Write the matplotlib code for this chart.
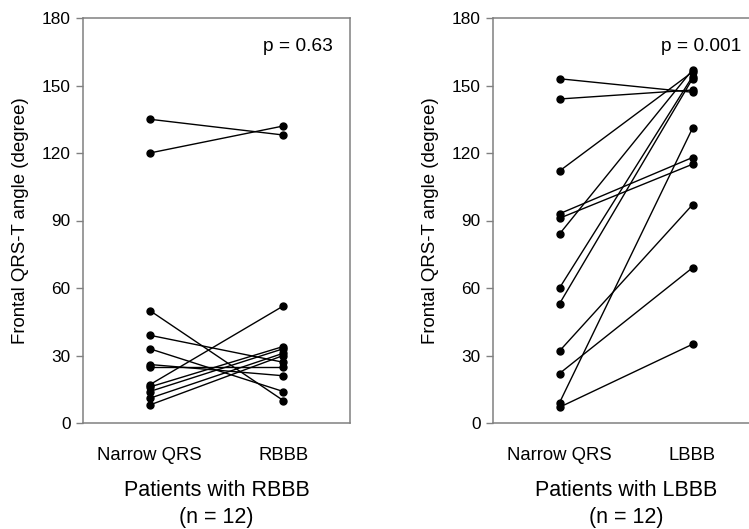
import matplotlib
matplotlib.use('Agg')
import matplotlib.pyplot as plt

plt.rcParams['font.family'] = ['Liberation Sans', 'DejaVu Sans']

# paired values, Narrow QRS -> bundle branch block
rbbb_narrow = [135, 120, 50, 39, 33, 26, 25, 17, 16, 14, 11, 8]
rbbb_block = [128, 132, 10, 27, 14, 21, 25, 52, 34, 33, 31, 30]

lbbb_narrow = [153, 144, 112, 93, 91, 84, 60, 53, 32, 22, 9, 7]
lbbb_block = [147, 148, 156, 118, 115, 157, 154, 153, 97, 69, 131, 35]

groups = ['Narrow QRS', 'RBBB', 'LBBB']
p_values = ['p = 0.63', 'p = 0.001']
yticks = [0, 30, 60, 90, 120, 150, 180]

fig = plt.figure(figsize=(7.49, 5.29), dpi=100)
ax1 = fig.add_axes([83/749, 1-423/529, 267/749, 405/529])
ax2 = fig.add_axes([493/749, 1-423/529, 266/749, 405/529])

panels = [
    (ax1, rbbb_narrow, rbbb_block, groups[1], p_values[0]),
    (ax2, lbbb_narrow, lbbb_block, groups[2], p_values[1]),
]

for ax, before, after, name, p in panels:
    for a, b in zip(before, after):
        ax.plot([0, 1], [a, b], color='black', lw=1.0,
                marker='o', ms=5, mfc='black', mec='black', zorder=3)
    ax.set_xlim(-0.5, 1.5)
    ax.set_ylim(0, 180)
    ax.set_yticks(yticks)
    ax.set_xticks([0, 1])
    ax.set_xticklabels([groups[0], name], fontsize=13.3)
    ax.tick_params(axis='x', length=0, pad=17)
    ax.tick_params(axis='y', length=5, width=1, color='#808080',
                   labelsize=12.4, pad=4, direction='out')
    for s in ax.spines.values():
        s.set_color('#808080')
        s.set_linewidth(1.1)
    ax.set_ylabel('Frontal QRS-T angle (degree)', fontsize=13.4, labelpad=9)
    ax.set_xlabel('Patients with %s\n(n = 12)' % name, fontsize=15.5,
                  labelpad=12, linespacing=1.35)
    ax.text(1.37, 167.5, p, ha='right', va='center', fontsize=13.8)

fig.savefig('out.png', dpi=100)
